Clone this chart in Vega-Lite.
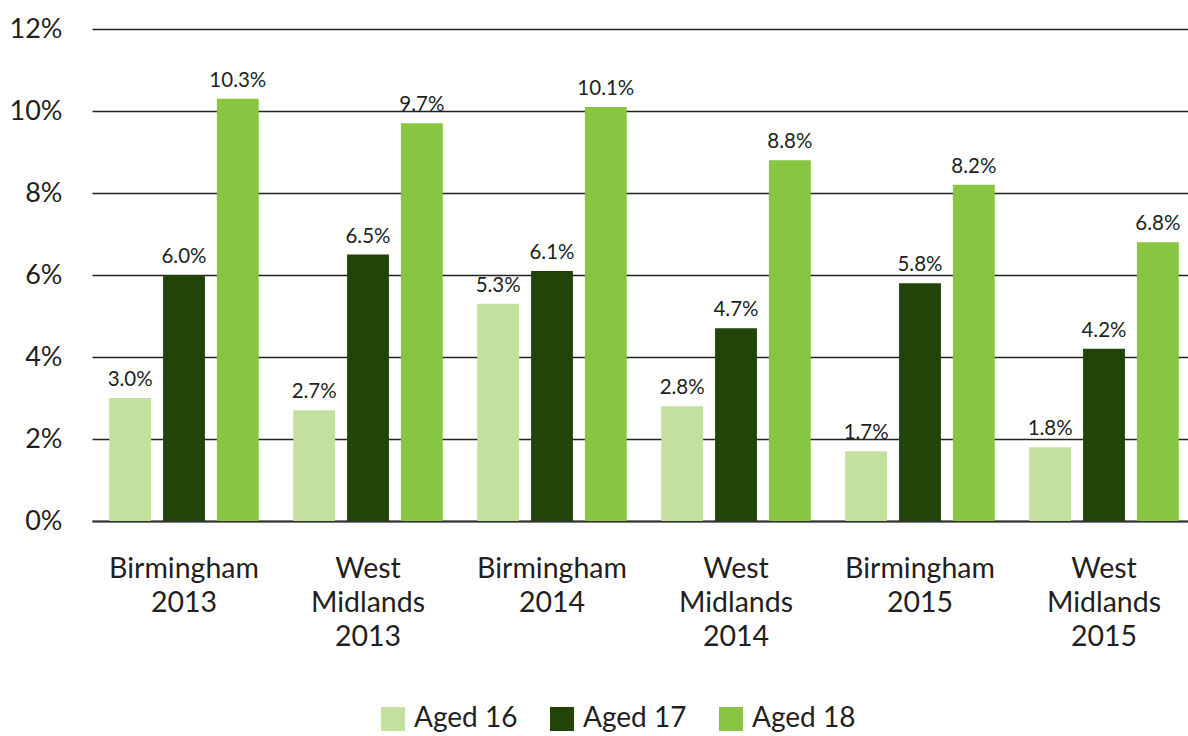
{
  "$schema": "https://vega.github.io/schema/vega-lite/v6.json",
  "autosize": "none",
  "width": 1104,
  "height": 492,
  "padding": {"left": 92, "top": 29, "right": 0, "bottom": 215},
  "background": "white",
  "config": {
    "font": "Lato",
    "view": {"stroke": null}
  },
  "data": {
    "values": [
      {"area": "Birmingham|2013", "age": "Aged 16", "value": 3.0, "label": "3.0%"},
      {"area": "Birmingham|2013", "age": "Aged 17", "value": 6.0, "label": "6.0%"},
      {"area": "Birmingham|2013", "age": "Aged 18", "value": 10.3, "label": "10.3%"},
      {"area": "West|Midlands|2013", "age": "Aged 16", "value": 2.7, "label": "2.7%"},
      {"area": "West|Midlands|2013", "age": "Aged 17", "value": 6.5, "label": "6.5%"},
      {"area": "West|Midlands|2013", "age": "Aged 18", "value": 9.7, "label": "9.7%"},
      {"area": "Birmingham|2014", "age": "Aged 16", "value": 5.3, "label": "5.3%"},
      {"area": "Birmingham|2014", "age": "Aged 17", "value": 6.1, "label": "6.1%"},
      {"area": "Birmingham|2014", "age": "Aged 18", "value": 10.1, "label": "10.1%"},
      {"area": "West|Midlands|2014", "age": "Aged 16", "value": 2.8, "label": "2.8%"},
      {"area": "West|Midlands|2014", "age": "Aged 17", "value": 4.7, "label": "4.7%"},
      {"area": "West|Midlands|2014", "age": "Aged 18", "value": 8.8, "label": "8.8%"},
      {"area": "Birmingham|2015", "age": "Aged 16", "value": 1.7, "label": "1.7%"},
      {"area": "Birmingham|2015", "age": "Aged 17", "value": 5.8, "label": "5.8%"},
      {"area": "Birmingham|2015", "age": "Aged 18", "value": 8.2, "label": "8.2%"},
      {"area": "West|Midlands|2015", "age": "Aged 16", "value": 1.8, "label": "1.8%"},
      {"area": "West|Midlands|2015", "age": "Aged 17", "value": 4.2, "label": "4.2%"},
      {"area": "West|Midlands|2015", "age": "Aged 18", "value": 6.8, "label": "6.8%"}
    ]
  },
  "encoding": {
    "x": {
      "field": "area", "type": "nominal", "sort": null,
      "scale": {"paddingInner": 0, "paddingOuter": 0},
      "axis": {
        "title": null, "labelAngle": 0, "ticks": false,
        "domain": true, "domainColor": "#333333", "domainWidth": 2,
        "labelExpr": "split(datum.label, '|')",
        "labelFont": "Lato", "labelFontSize": 28.5, "labelColor": "#231f20",
        "labelPadding": 33, "labelLineHeight": 34, "labelLimit": 0
      }
    },
    "xOffset": {
      "field": "age", "type": "nominal",
      "scale": {"paddingInner": 0.222, "paddingOuter": 0.32}
    },
    "y": {
      "field": "value", "type": "quantitative",
      "scale": {"domain": [0, 12], "nice": false},
      "axis": {
        "title": null, "values": [0, 2, 4, 6, 8, 10, 12],
        "labelExpr": "datum.value + '%'",
        "domain": false, "ticks": false,
        "grid": true, "gridColor": "#222222", "gridWidth": 1.5,
        "labelFont": "Lato", "labelFontSize": 27, "labelColor": "#231f20",
        "labelPadding": 30
      }
    }
  },
  "layer": [
    {
      "mark": {"type": "bar"},
      "encoding": {
        "color": {
          "field": "age", "type": "nominal",
          "scale": {"domain": ["Aged 16", "Aged 17", "Aged 18"], "range": ["#c4e09e", "#224408", "#88c541"]},
          "legend": {
            "title": null, "orient": "none", "direction": "horizontal",
            "legendX": 287, "legendY": 676,
            "symbolType": "square", "symbolSize": 576, "symbolStrokeWidth": 0,
            "symbolOpacity": 1,
            "labelFont": "Lato", "labelFontSize": 28, "labelColor": "#231f20",
            "labelOffset": 7, "columnPadding": 30
          }
        }
      }
    },
    {
      "mark": {"type": "text", "baseline": "bottom", "dy": -8, "fontSize": 20.5, "font": "Lato", "color": "#231f20"},
      "encoding": {
        "text": {"field": "label", "type": "nominal"}
      }
    }
  ]
}
